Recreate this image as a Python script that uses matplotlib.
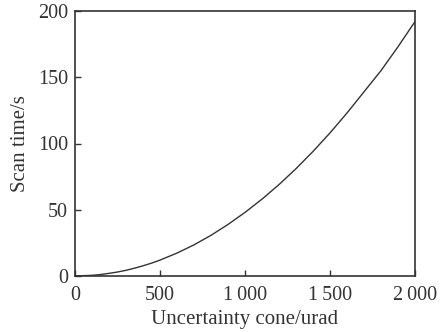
import numpy as np
import matplotlib
matplotlib.use('Agg')
import matplotlib.pyplot as plt

plt.rcParams['font.family'] = ['Liberation Serif', 'DejaVu Serif']

# values
cone = [0, 100, 150, 200, 250, 300, 350, 400, 450, 500, 600, 700, 800, 900, 1000,
        1100, 1200, 1300, 1400, 1500, 1600, 1700, 1800, 1900, 2000]
scan_time = [0, 0.5, 1.1, 2, 3, 4.3, 5.9, 7.7, 9.7, 12, 17.3, 23.5, 30.7, 38.9, 48,
             58, 69, 81, 94, 108, 123, 139, 155, 173, 192]

xticks = [0, 500, 1000, 1500, 2000]
xlabels = ['0', '500', '1\u2009000', '1\u2009500', '2\u2009000']
yticks = [0, 50, 100, 150, 200]

fig = plt.figure(figsize=(4.4, 3.32), dpi=100)
ax = fig.add_axes([75 / 440, 56 / 332, 340 / 440, 265 / 332])

ax.plot(cone, scan_time, color='#333333', lw=1.0)

ax.set_xlim(0, 2000)
ax.set_ylim(0, 200)
ax.set_xticks(xticks)
ax.set_xticklabels(xlabels)
ax.set_yticks(yticks)
ax.tick_params(direction='in', length=4, width=1, labelsize=14.5, colors='#333333')
ax.tick_params(axis='x', pad=7)
ax.tick_params(axis='y', pad=5)
for s in ax.spines.values():
    s.set_linewidth(1.2)
    s.set_color('#333333')

ax.set_xlabel('Uncertainty cone/urad', fontsize=15, color='#333333', labelpad=4)
ax.set_ylabel('Scan time/s', fontsize=15, color='#333333', labelpad=6)

fig.savefig('out.png', dpi=100)
